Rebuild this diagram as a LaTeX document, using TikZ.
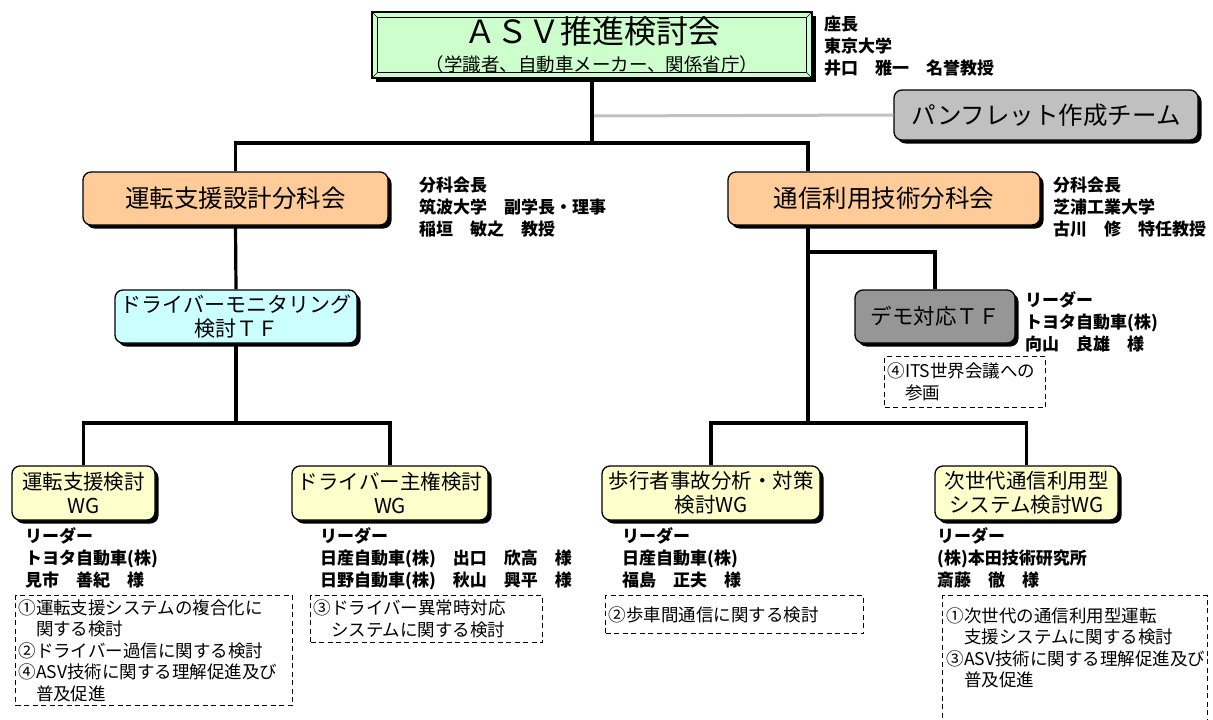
\documentclass[tikz,border=0pt]{standalone}
\usepackage{fontspec}
\setmainfont{Noto Sans CJK JP}
\usetikzlibrary{shadows}
\definecolor{cgreen}{HTML}{CCFFCC}
\definecolor{corange}{HTML}{FFCC99}
\definecolor{ccyan}{HTML}{CCFFFF}
\definecolor{cyellow}{HTML}{FFFFCC}
\definecolor{cgray}{HTML}{C0C0C0}
\definecolor{cdgray}{HTML}{969696}
\begin{document}
\begin{tikzpicture}[x=1pt,y=-1pt,
  box/.style={draw=black, line width=1.3pt, rounded corners=8pt, align=center, inner sep=0pt,
    drop shadow={shadow xshift=3.5pt, shadow yshift=-3.5pt, fill=black, opacity=1}},
  info/.style={anchor=north west, align=left, inner sep=0pt, font=\fontsize{17}{22}\selectfont\bfseries},
  dbox/.style={draw=black, line width=1pt, dash pattern=on 5pt off 3.5pt, anchor=north west, align=left, inner sep=3pt, font=\fontsize{17.5}{21.5}\selectfont},
  conn/.style={draw=black, line width=3.2pt},
  gline/.style={draw=cgray, line width=3pt}]
\useasboundingbox (0,0) rectangle (1213,720);

% top box
\node[draw=black, line width=1.5pt, fill=cgreen, minimum width=440pt, minimum height=66pt, inner sep=0pt,
  drop shadow={shadow xshift=3.5pt, shadow yshift=-3.5pt, fill=black, opacity=1}, align=center,
  font=\fontsize{32}{28}\selectfont] (asv) at (592,45)
  {ＡＳＶ推進検討会\\{\fontsize{18.5}{20}\selectfont （学識者、自動車メーカー、関係省庁）}};
\draw[line width=0.8pt] ([xshift=6pt,yshift=-6pt]asv.north west) rectangle ([xshift=-6pt,yshift=6pt]asv.south east);
\draw[line width=0.6pt] (asv.north west) -- ([xshift=6pt,yshift=-6pt]asv.north west)
  (asv.north east) -- ([xshift=-6pt,yshift=-6pt]asv.north east)
  (asv.south west) -- ([xshift=6pt,yshift=6pt]asv.south west)
  (asv.south east) -- ([xshift=-6pt,yshift=6pt]asv.south east);
\node[info] (chair) at (824,16) {座長\\東京大学\\井口　雅一　名誉教授};

% pamphlet
\node[box, fill=cgray, minimum width=304pt, minimum height=50pt, font=\fontsize{24.5}{26}\selectfont] (pam) at (1046,115) {パンフレット作成チーム};

% sub committees
\node[box, fill=corange, minimum width=305pt, minimum height=53pt, font=\fontsize{24.5}{26}\selectfont] (unten) at (235.5,198.5) {運転支援設計分科会};
\node[info] (untenI) at (419,177) {分科会長\\筑波大学　副学長・理事\\稲垣　敏之　教授};
\node[box, fill=corange, minimum width=312pt, minimum height=53pt, font=\fontsize{24.5}{26}\selectfont] (tsu) at (884,198.5) {通信利用技術分科会};
\node[info] (tsuI) at (1053,177) {分科会長\\芝浦工業大学\\古川　修　特任教授};

% TF
\node[box, fill=ccyan, minimum width=242pt, minimum height=53pt, font=\fontsize{21}{24}\selectfont] (dm) at (236,316.5) {ドライバーモニタリング\\検討ＴＦ};
\node[box, fill=cdgray, minimum width=160pt, minimum height=53pt, font=\fontsize{21.5}{24}\selectfont] (demo) at (935,316.5) {デモ対応ＴＦ};
\node[info] (demoI) at (1025,291) {リーダー\\トヨタ自動車(株)\\向山　良雄　様};
\node[dbox, text width=155pt, minimum height=51pt] (demoD) at (884,356) {④ITS世界会議への\\　参画};

% WGs
\node[box, fill=cyellow, minimum width=143pt, minimum height=54pt, font=\fontsize{20.5}{24}\selectfont] (wg1) at (83.5,493) {運転支援検討\\WG};
\node[box, fill=cyellow, minimum width=196pt, minimum height=54pt, font=\fontsize{20.5}{24}\selectfont] (wg2) at (390,493) {ドライバー主権検討\\WG};
\node[box, fill=cyellow, minimum width=218pt, minimum height=54pt, font=\fontsize{20.5}{24}\selectfont] (wg3) at (711,493) {歩行者事故分析・対策\\検討WG};
\node[box, fill=cyellow, minimum width=183pt, minimum height=54pt, font=\fontsize{20.5}{24}\selectfont] (wg4) at (1026.5,493) {次世代通信利用型\\システム検討WG};

\node[info] (wg1I) at (25,527) {リーダー\\トヨタ自動車(株)\\見市　善紀　様};
\node[info] (wg2I) at (320,527) {リーダー\\日産自動車(株)　出口　欣高　様\\日野自動車(株)　秋山　興平　様};
\node[info] (wg3I) at (622,527) {リーダー\\日産自動車(株)\\福島　正夫　様};
\node[info] (wg4I) at (937,527) {リーダー\\(株)本田技術研究所\\斎藤　徹　様};

\node[dbox, text width=271pt, minimum height=110pt] (d1) at (15,595) {①運転支援システムの複合化に\\　関する検討\\②ドライバー過信に関する検討\\④ASV技術に関する理解促進及び\\　普及促進};
\node[dbox, text width=226pt, minimum height=47pt] (d2) at (310,595) {③ドライバー異常時対応\\　システムに関する検討};
\node[dbox, text width=252pt, minimum height=38pt] (d3) at (605,595) {②歩車間通信に関する検討};
\node[dbox, text width=259pt, minimum height=135pt] (d4) at (942,595) {};
\node[dbox, draw=none, anchor=north west] (d4t) at (943,604) {①次世代の通信利用型運転\\　支援システムに関する検討\\③ASV技術に関する理解促進及び\\　普及促進};

% connectors
\coordinate (h1) at (0,143);
\coordinate (rv) at (808,0);
\coordinate (h2) at (0,423);
\coordinate (hd) at (0,252);
\coordinate (gx) at (592,116);
\draw[gline] (gx) -- (pam.west);
\draw[conn] (asv.south) -- (asv.south |- h1);
\draw[conn] (unten.north) |- (h1 -| rv) -- (tsu.north -| rv);
\draw[conn] (unten.south) -- (dm.north);
\draw[conn] (dm.south) -- (dm.south |- h2);
\draw[conn] (wg1.north) |- (h2 -| wg2.north) -- (wg2.north);
\draw[conn] (tsu.south -| rv) -- (h2 -| rv);
\draw[conn] (hd -| rv) -| (demo.north);
\draw[conn] (wg3.north) |- (h2 -| wg4.north) -- (wg4.north);
\end{tikzpicture}
\end{document}
